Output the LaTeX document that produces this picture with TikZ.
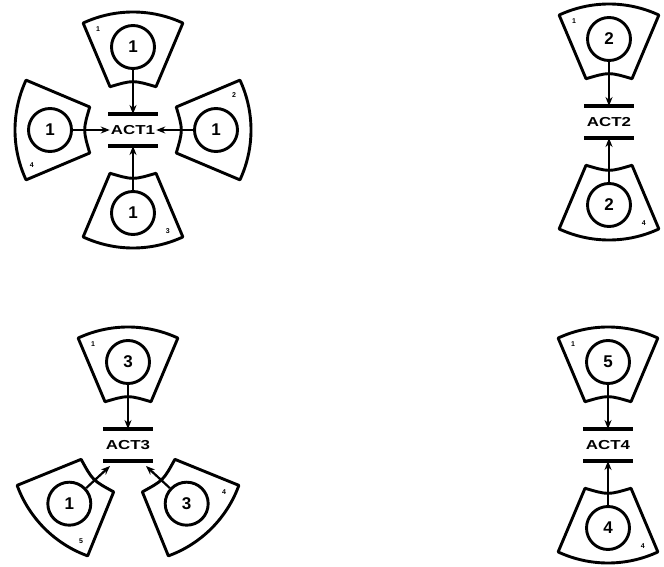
\documentclass[tikz,border=0pt]{standalone}
\usepackage{fontspec}
\setmainfont{Liberation Sans}
\usepackage{graphicx}
\usetikzlibrary{calc,arrows.meta}
\newcommand{\Ro}{118pt}
\newcommand{\Ri}{49pt}
% #1 center, #2 direction angle, #3 digit, #4 corner label, #5 node name
\newcommand{\mypetal}[5]{%
  \draw[petal] ($(#1)+({#2-25}:\Ro)$) arc[start angle={#2-25}, end angle={#2+25}, radius=\Ro]
     -- ($(#1)+({#2+28}:\Ri)$) .. controls ($(#1)+({#2}:50pt)$) .. ($(#1)+({#2-28}:\Ri)$) -- cycle;
  \node[place] (#5) at ($(#1)+({#2}:83pt)$) {#3};
  \node[cornerlbl] (#5c) at ($(#1)+({#2+19}:107pt)$) {#4};
}
% #1 name, #2 position, #3 text
\newcommand{\mytrans}[3]{%
  \node[translbl] (#1) at (#2) {\scalebox{1.3}[1]{#3}};
  \coordinate (#1n) at ($(#1)+(0,16)$);
  \coordinate (#1s) at ($(#1)+(0,-16)$);
  \draw[bar] ($(#1n)+(-25,0)$) -- ($(#1n)+(25,0)$);
  \draw[bar] ($(#1s)+(-25,0)$) -- ($(#1s)+(25,0)$);
}
\tikzset{
  petal/.style={draw=black, line width=2.9pt, line join=round},
  place/.style={circle, draw=black, line width=2.9pt, minimum size=43pt, inner sep=0pt,
     font=\fontsize{17}{17}\selectfont\bfseries},
  cornerlbl/.style={inner sep=0pt, font=\fontsize{7}{7}\selectfont\bfseries},
  translbl/.style={inner sep=1pt, font=\fontsize{13}{13}\selectfont\bfseries},
  bar/.style={line width=3.2pt},
  arc/.style={line width=2.2pt, -{Stealth[length=9pt,width=7pt]}},
}
\begin{document}
\begin{tikzpicture}[x=1pt,y=1pt]
\useasboundingbox (0,0) rectangle (664,566);
% ACT1
\coordinate (c1) at (133,436);
\mytrans{t1}{c1}{ACT1}
\mypetal{c1}{90}{1}{1}{p1a}
\mypetal{c1}{0}{1}{2}{p1b}
\mypetal{c1}{270}{1}{3}{p1c}
\mypetal{c1}{180}{1}{4}{p1d}
\draw[arc] (p1a) -- (t1n);
\draw[arc] (p1c) -- (t1s);
\draw[arc] (p1d) -- (t1.west);
\draw[arc] (p1b) -- (t1.east);
% ACT2
\coordinate (c2) at (609,444);
\mytrans{t2}{c2}{ACT2}
\mypetal{c2}{90}{2}{1}{p2a}
\mypetal{c2}{270}{2}{4}{p2b}
\draw[arc] (p2a) -- (t2n);
\draw[arc] (p2b) -- (t2s);
% ACT3
\coordinate (c3) at (128,121);
\mytrans{t3}{c3}{ACT3}
\mypetal{c3}{90}{3}{1}{p3a}
\mypetal{c3}{225}{1}{5}{p3b}
\mypetal{c3}{315}{3}{4}{p3c}
\coordinate (t3l) at ($(c3)+(-18,-21)$);
\coordinate (t3r) at ($(c3)+(18,-21)$);
\draw[arc] (p3a) -- (t3n);
\draw[arc] (p3b) -- (t3l);
\draw[arc] (p3c) -- (t3r);
% ACT4
\coordinate (c4) at (608,121);
\mytrans{t4}{c4}{ACT4}
\mypetal{c4}{90}{5}{1}{p4a}
\mypetal{c4}{270}{4}{4}{p4b}
\draw[arc] (p4a) -- (t4n);
\draw[arc] (p4b) -- (t4s);
\end{tikzpicture}
\end{document}
